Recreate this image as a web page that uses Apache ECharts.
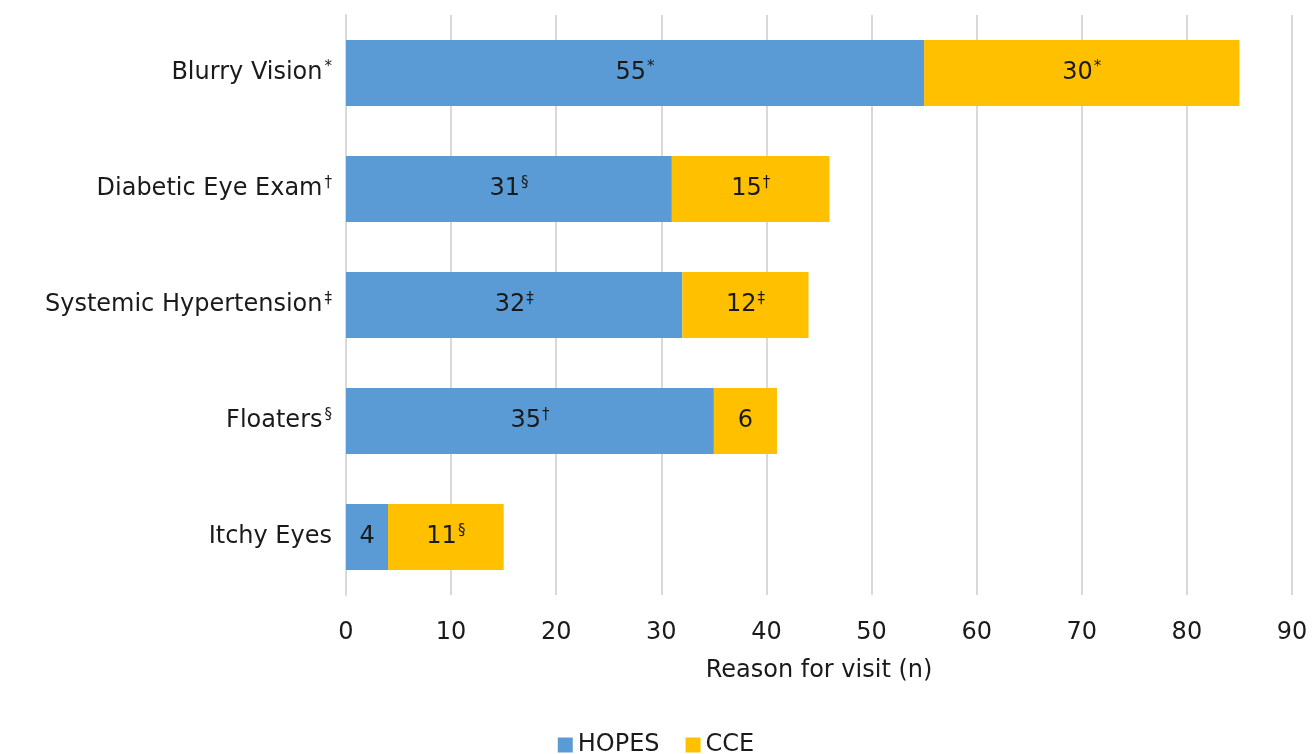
<!DOCTYPE html>
<html>
<head>
<meta charset="utf-8">
<script src="https://cdn.jsdelivr.net/npm/echarts@6/dist/echarts.min.js"></script>
<style>
html,body{margin:0;padding:0;background:#fff;}
#c{width:1312px;height:754px;}
</style>
</head>
<body>
<div id="c"></div>
<script>
const categories = ['Blurry Vision', 'Diabetic Eye Exam', 'Systemic Hypertension', 'Floaters', 'Itchy Eyes'];
const categoryMarks = ['*', '†', '‡', '§', ''];
const hopes = [55, 31, 32, 35, 4];
const hopesMarks = ['*', '§', '‡', '†', ''];
const cce = [30, 15, 12, 6, 11];
const cceMarks = ['*', '†', '‡', '', '§'];
const xTicks = [0, 10, 20, 30, 40, 50, 60, 70, 80, 90];

const FONT = '"DejaVu Sans", sans-serif';
const FS = 24;
const SUP = 15;
const chart = echarts.init(document.getElementById('c'));

function labelFor(marks) {
  return {
    show: true,
    position: 'inside',
    formatter: p => marks[p.dataIndex] ? '{n|' + p.value + '}{s|' + marks[p.dataIndex] + '}' : '{n|' + p.value + '}',
    rich: {
      n: { fontSize: FS, color: '#1a1a1a', fontFamily: FONT },
      s: { fontSize: SUP, color: '#1a1a1a', fontFamily: FONT, verticalAlign: 'top', padding: [0, 0, 11, 1] }
    }
  };
}

chart.setOption({
  animation: false,
  grid: { left: 346, right: 20, top: 15, bottom: 159 },
  legend: {
    bottom: -8,
    left: 'center',
    itemWidth: 15,
    itemHeight: 15,
    itemGap: 26,
    icon: 'rect',
    textStyle: { fontSize: FS, color: '#1a1a1a', fontFamily: FONT },
    data: ['HOPES', 'CCE']
  },
  xAxis: {
    type: 'value',
    min: xTicks[0],
    max: xTicks[xTicks.length - 1],
    interval: 10,
    name: 'Reason for visit (n)',
    nameLocation: 'middle',
    nameGap: 64,
    nameTextStyle: { fontSize: FS, color: '#1a1a1a', fontFamily: FONT },
    axisLine: { show: false },
    axisTick: { show: false },
    axisLabel: { fontSize: FS, color: '#1a1a1a', fontFamily: FONT, margin: 26 },
    splitLine: { show: true, lineStyle: { color: '#d9d9d9', width: 2 } }
  },
  yAxis: {
    type: 'category',
    inverse: true,
    data: categories,
    axisLine: { show: true, lineStyle: { color: '#d9d9d9', width: 2 } },
    axisTick: { show: false },
    axisLabel: {
      margin: 14,
      formatter: (v, i) => categoryMarks[i] ? '{n|' + v + '}{s|' + categoryMarks[i] + '}' : '{n|' + v + '}',
      rich: {
        n: { fontSize: FS, color: '#1a1a1a', fontFamily: FONT },
        s: { fontSize: SUP, color: '#1a1a1a', fontFamily: FONT, verticalAlign: 'top', padding: [0, 0, 11, 2] }
      }
    }
  },
  series: [
    {
      name: 'HOPES', type: 'bar', stack: 'total', data: hopes,
      barWidth: 66,
      itemStyle: { color: '#5b9bd5' },
      label: labelFor(hopesMarks)
    },
    {
      name: 'CCE', type: 'bar', stack: 'total', data: cce,
      barWidth: 66,
      itemStyle: { color: '#ffc000' },
      label: labelFor(cceMarks)
    }
  ]
});
</script>
</body>
</html>
